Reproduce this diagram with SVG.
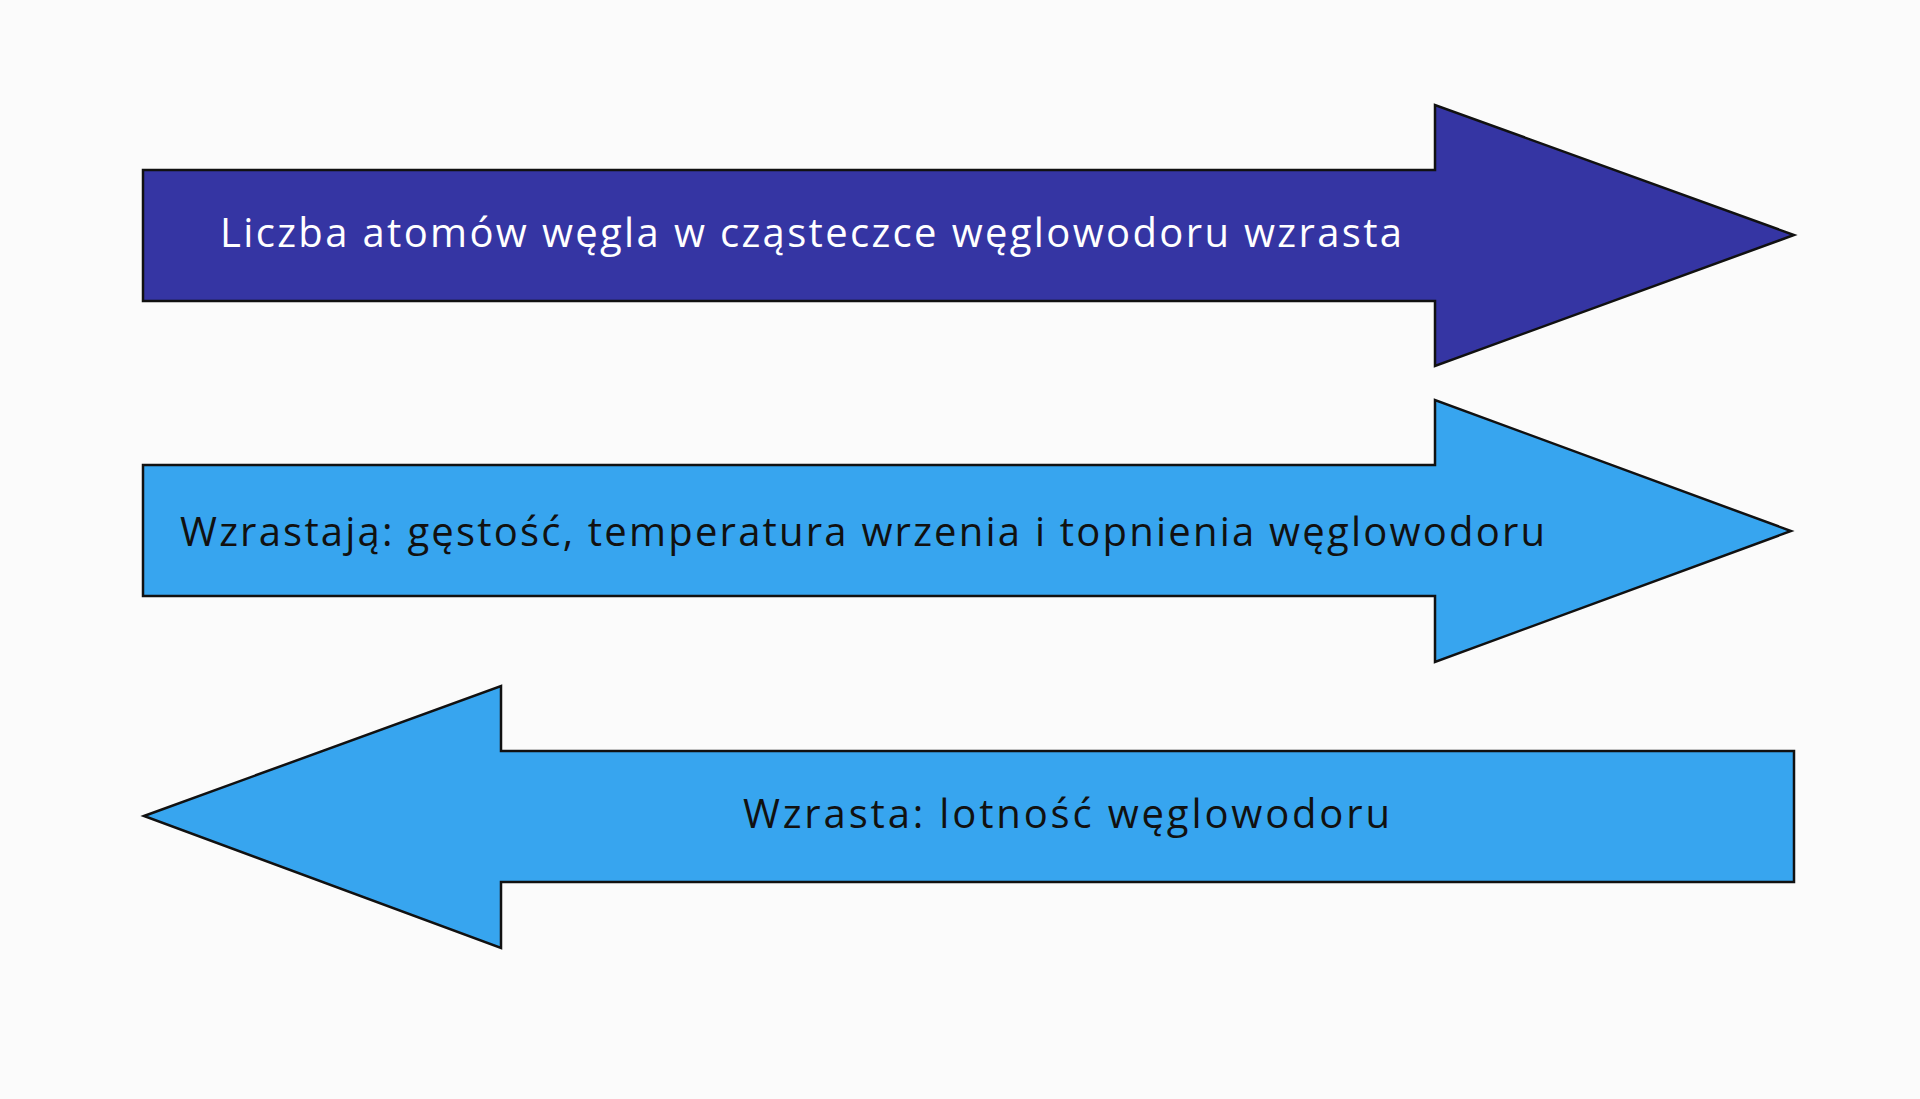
<svg xmlns="http://www.w3.org/2000/svg" width="1920" height="1099" viewBox="0 0 1920 1099">
<style>
.a{stroke:#111;stroke-width:2.5;stroke-linejoin:miter}
.t{font-family:"Open Sans","Noto Sans",sans-serif;font-size:40px}
</style>
<rect width="1920" height="1099" fill="#fbfbfb"/>
<g id="arrow1">
<polygon class="a" fill="#3535a3" points="143,170 1435,170 1435,105 1794,235 1435,366 1435,301 143,301"/>
<text class="t" x="220" y="247" fill="#fff" textLength="1182" lengthAdjust="spacing">Liczba atomów węgla w cząsteczce węglowodoru wzrasta</text>
</g>
<g id="arrow2">
<polygon class="a" fill="#37a5ef" points="143,465 1435,465 1435,400 1791,531 1435,662 1435,596 143,596"/>
<text class="t" x="180" y="546" fill="#111" textLength="1365" lengthAdjust="spacing">Wzrastają: gęstość, temperatura wrzenia i topnienia węglowodoru</text>
</g>
<g id="arrow3">
<polygon class="a" fill="#37a5ef" points="144,816 501,686 501,751 1794,751 1794,882 501,882 501,948"/>
<text class="t" x="743" y="828" fill="#111" textLength="647" lengthAdjust="spacing">Wzrasta: lotność węglowodoru</text>
</g>
<g id="connectors"/>
</svg>
